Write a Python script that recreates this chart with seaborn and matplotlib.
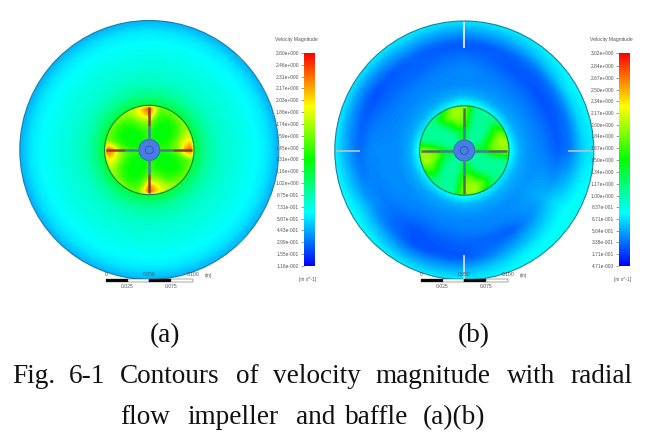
"""
plot.py - velocity magnitude contours, radial flow impeller without / with baffle
"""

import numpy as np
import matplotlib
matplotlib.use("Agg")
import matplotlib.pyplot as plt
import matplotlib.patches as mpatches
from matplotlib.colors import LinearSegmentedColormap
import seaborn as sns

W, H = 651, 434
GRID = 520

# ── Data ───────────────────────────────────────────────────────────────────────
ticks_a = ["2.60e+000", "2.46e+000", "2.31e+000", "2.17e+000", "2.03e+000", "1.88e+000", "1.74e+000",
           "1.59e+000", "1.45e+000", "1.31e+000", "1.16e+000", "1.02e+000", "8.75e-001", "7.31e-001",
           "5.87e-001", "4.43e-001", "2.99e-001", "1.55e-001", "1.16e-002"]
ticks_b = ["3.02e+000", "2.84e+000", "2.67e+000", "2.50e+000", "2.34e+000", "2.17e+000", "2.00e+000",
           "1.84e+000", "1.67e+000", "1.50e+000", "1.34e+000", "1.17e+000", "1.00e+000", "8.37e-001",
           "6.71e-001", "5.04e-001", "3.38e-001", "1.71e-001", "4.71e-003"]

# tank region, r / R by angle (deg, counter-clockwise from +x)
outer_r = [0.345, 0.42, 0.52, 0.62, 0.72, 0.82, 0.92, 1.00]
outer_ang_b = [0, 30, 60, 90, 120, 150, 180, 210, 240, 270, 300, 330]
outer_a = [1.18, 0.96, 0.82, 0.76, 0.72, 0.67, 0.60, 0.46]
outer_b = [
    [0.85, 0.75, 0.80, 0.90, 0.75, 0.70, 0.85, 0.75, 0.75, 0.85, 0.75, 0.70],
    [0.52, 0.50, 0.50, 0.55, 0.50, 0.50, 0.52, 0.52, 0.50, 0.52, 0.52, 0.52],
    [0.42, 0.42, 0.42, 0.40, 0.42, 0.42, 0.42, 0.42, 0.42, 0.42, 0.42, 0.45],
    [0.38, 0.33, 0.36, 0.42, 0.38, 0.38, 0.42, 0.42, 0.35, 0.38, 0.40, 0.50],
    [0.28, 0.24, 0.26, 0.36, 0.30, 0.32, 0.42, 0.38, 0.25, 0.30, 0.28, 0.55],
    [0.36, 0.34, 0.30, 0.25, 0.30, 0.24, 0.32, 0.44, 0.25, 0.25, 0.50, 0.68],
    [0.64, 0.68, 0.56, 0.48, 0.52, 0.44, 0.52, 0.66, 0.50, 0.54, 0.72, 0.78],
    [0.72, 0.76, 0.72, 0.70, 0.72, 0.70, 0.74, 0.78, 0.72, 0.72, 0.78, 0.82],
]

# impeller region, one blade sector (repeats four times), angle from the blade
inner_r = [0.15, 0.22, 0.28, 0.32, 0.345]
inner_ang = [0, 15, 30, 45, 60, 75]
inner_a = [
    [1.45, 1.40, 1.32, 1.28, 1.28, 1.32],
    [1.65, 1.60, 1.40, 1.30, 1.28, 1.38],
    [2.25, 1.90, 1.55, 1.40, 1.38, 1.48],
    [2.40, 1.95, 1.70, 1.55, 1.50, 1.55],
    [1.90, 1.80, 1.72, 1.65, 1.60, 1.60],
]
inner_b = [
    [1.45, 1.35, 1.15, 1.05, 1.05, 1.15],
    [1.80, 1.80, 1.40, 1.08, 1.05, 1.15],
    [1.90, 2.00, 1.75, 1.20, 1.05, 1.10],
    [1.95, 2.00, 1.60, 1.15, 1.05, 1.10],
    [1.85, 1.90, 1.45, 1.12, 1.05, 1.10],
]

# ── Style ──────────────────────────────────────────────────────────────────────
sns.set_theme(style="white")
plt.rcParams["font.family"] = ["Liberation Sans", "DejaVu Sans"]
RAINBOW = LinearSegmentedColormap.from_list("fluent", ["#0000ff", "#00ffff", "#00ff00", "#ffff00", "#ff0000"])
SMALL = "#555555"


def blur(a, n=9, passes=2):
    k = np.ones(n) / n
    for _ in range(passes):
        a = np.apply_along_axis(lambda v: np.convolve(np.pad(v, n // 2, mode="edge"), k, "valid"), 0, a)
        a = np.apply_along_axis(lambda v: np.convolve(np.pad(v, n // 2, mode="edge"), k, "valid"), 1, a)
    return a


def sample(rows, radii, angles, r, th):
    rows = np.asarray(rows, float)
    vals = np.c_[rows, rows[:, 0]]
    ang = np.r_[angles, 360.0]
    rr = np.clip(r, radii[0], radii[-1])
    i = np.clip(np.searchsorted(radii, rr) - 1, 0, len(radii) - 2)
    j = np.clip(np.searchsorted(ang, th) - 1, 0, len(ang) - 2)
    u = (rr - np.take(radii, i)) / (np.take(radii, i + 1) - np.take(radii, i))
    v = (th - ang[j]) / (ang[j + 1] - ang[j])
    return ((1 - u) * (1 - v) * vals[i, j] + u * (1 - v) * vals[i + 1, j]
            + (1 - u) * v * vals[i, j + 1] + u * v * vals[i + 1, j + 1])


def build_field(outer_rows, outer_ang, inner_rows):
    y, x = np.mgrid[1:-1:GRID * 1j, -1:1:GRID * 1j]
    r = np.hypot(x, y)
    th = np.degrees(np.arctan2(y, x)) % 360
    outer = blur(sample(outer_rows, outer_r, outer_ang, r, th), 11)
    sector = np.hstack([inner_rows] * 4)
    inner = blur(sample(sector, inner_r, [a + q for q in (0, 90, 180, 270) for a in inner_ang], r, th), 5, 1)
    field = np.where(r < 0.345, inner, outer)
    return field, r > 1.0


def draw_panel(fig, ov, cx, cy, outer_rows, outer_ang, inner_rows, tick_labels, blade_col, baffles):
    R = 129.5
    ax = fig.add_axes([(cx - R) / W, 1 - (cy + R) / H, 2 * R / W, 2 * R / H])
    cbar_x = cx + 154.5
    cax = fig.add_axes([cbar_x / W, 1 - 266 / H, 11 / W, 213 / H])
    values = [float(t) for t in tick_labels]
    field, mask = build_field(outer_rows, outer_ang, inner_rows)
    sns.heatmap(field, mask=mask, vmin=values[-1], vmax=values[0], cmap=RAINBOW, ax=ax, cbar_ax=cax,
                xticklabels=False, yticklabels=False, cbar_kws={"ticks": values}, rasterized=True)
    ax.set_facecolor("white")

    cax.yaxis.set_ticks_position("left")
    cax.set_yticks(values)
    cax.set_yticklabels(tick_labels, fontsize=3.5, color=SMALL)
    cax.tick_params(axis="y", length=2, width=0.4, pad=1.5, color=SMALL, left=True, right=False)
    for s in cax.spines.values():
        s.set_visible(False)

    ov.text(cbar_x - 7, 40, "Velocity Magnitude", fontsize=3.6, color=SMALL, ha="center", va="center")
    ov.text(cbar_x + 4, 280, "[m s^-1]", fontsize=3.4, color=SMALL, ha="center", va="center")

    # tank wall, impeller zone, baffles
    ov.add_patch(mpatches.Circle((cx, cy), R, fill=False, ec="#1b7f9e", lw=0.8))
    ov.add_patch(mpatches.Circle((cx, cy), 44.7, fill=False, ec="#16803f", lw=0.8))
    if baffles:
        ov.plot([cx, cx], [cy - R + 1, cy - 103], color="#e4eef0", lw=1.3, solid_capstyle="butt")
        ov.plot([cx, cx], [cy + 104, cy + R - 1], color="#cfdce0", lw=1.3, solid_capstyle="butt")
        ov.plot([cx - R + 1, cx - 104], [cy, cy], color="#a9c3cb", lw=1.3, solid_capstyle="butt")
        ov.plot([cx + 104, cx + R - 1], [cy, cy], color="#a9c3cb", lw=1.3, solid_capstyle="butt")

    # blades and hub
    for dx, dy in [(1, 0), (0, 1), (-1, 0), (0, -1)]:
        ov.plot([cx + 10 * dx, cx + 24 * dx], [cy + 10 * dy, cy + 24 * dy], color="#3f7f9f", lw=1.8,
                solid_capstyle="butt")
        ov.plot([cx + 24 * dx, cx + 43 * dx], [cy + 24 * dy, cy + 43 * dy], color=blade_col, lw=1.8,
                solid_capstyle="butt")
    ov.add_patch(mpatches.Circle((cx, cy), 10.5, fc="#4a7ce8", ec="#2f62b8", lw=0.6))
    ov.add_patch(mpatches.Circle((cx, cy), 4, fill=False, ec="#2a5a9a", lw=0.6))

    # scale bar
    x0 = cx - 43.5
    for i, c in enumerate(["black", "white", "black", "white"]):
        ov.add_patch(mpatches.Rectangle((x0 + i * 21.7, 279), 21.7, 3.3, fc=c, ec="#333333", lw=0.3))
    ov.text(x0, 275, "0", fontsize=3.6, color=SMALL, ha="center", va="center")
    ov.text(x0 + 43.5, 275, "0.050", fontsize=3.6, color=SMALL, ha="center", va="center")
    ov.text(x0 + 87, 275, "0.100", fontsize=3.6, color=SMALL, ha="center", va="center")
    ov.text(x0 + 103, 275, "(m)", fontsize=3.6, color=SMALL, ha="center", va="center")
    ov.text(x0 + 21.7, 286, "0.025", fontsize=3.6, color=SMALL, ha="center", va="center")
    ov.text(x0 + 65.2, 286, "0.075", fontsize=3.6, color=SMALL, ha="center", va="center")


def main():
    fig = plt.figure(figsize=(W / 100, H / 100), dpi=100, facecolor="white")
    ov = fig.add_axes([0, 0, 1, 1], zorder=5)
    ov.set_xlim(0, W)
    ov.set_ylim(H, 0)
    ov.axis("off")
    ov.patch.set_alpha(0)

    outer_rows_a = np.array(outer_a)[:, None]
    draw_panel(fig, ov, 149.3, 150.0, np.repeat(outer_rows_a, 12, axis=1), outer_ang_b, inner_a, ticks_a,
               "#8a3a3a", False)
    draw_panel(fig, ov, 464.3, 150.5, outer_b, outer_ang_b, inner_b, ticks_b, "#55685c", True)

    serif = dict(family=["Liberation Serif", "DejaVu Serif"], fontsize=19.6, color="#111111", va="baseline")
    ov.text(165, 342, "(a)", ha="center", **serif)
    ov.text(474, 342, "(b)", ha="center", **serif)
    for x, word in [(12, "Fig."), (69, "6-1"), (120, "Contours"), (236, "of"), (273, "velocity"),
                    (375, "magnitude"), (507, "with"), (570, "radial")]:
        ov.text(x, 383, word, ha="left", **serif)
    for x, word in [(120, "flow"), (187, "impeller"), (296, "and"), (345, "baffle"), (423, "(a)(b)")]:
        ov.text(x, 424, word, ha="left", **serif)

    fig.savefig("out.png", dpi=100, facecolor="white")


if __name__ == "__main__":
    main()
